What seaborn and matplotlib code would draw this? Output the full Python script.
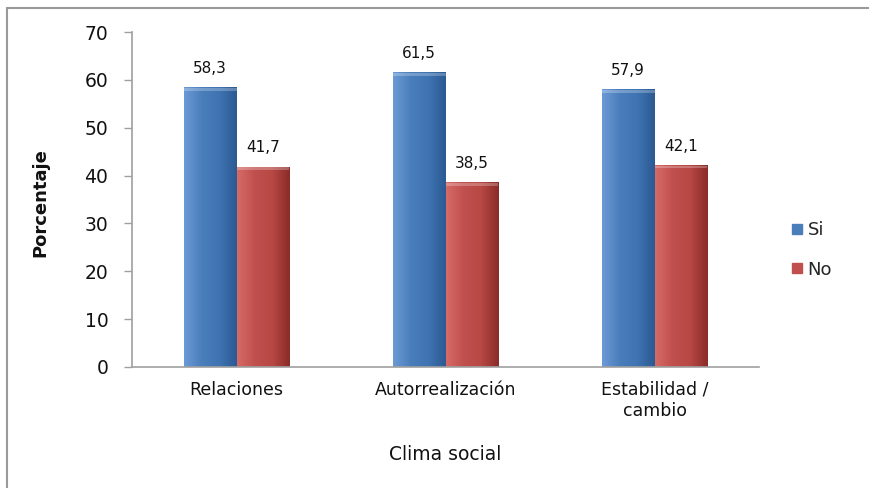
import numpy as np
import pandas as pd
import seaborn as sns
import matplotlib
matplotlib.use("Agg")
import matplotlib.pyplot as plt
from matplotlib.colors import LinearSegmentedColormap
from matplotlib.lines import Line2D

categories = ["Relaciones", "Autorrealización", "Estabilidad /\ncambio"]
series = ["Si", "No"]
si_values = [58.3, 61.5, 57.9]
no_values = [41.7, 38.5, 42.1]
yticks = [0, 10, 20, 30, 40, 50, 60, 70]

df = pd.DataFrame({
    "cat": categories * 2,
    "serie": ["Si"] * 3 + ["No"] * 3,
    "val": si_values + no_values,
})

sns.set_theme(style="white")
plt.rcParams["font.family"] = ["DejaVu Sans"]

colors = {"Si": "#4a7ebb", "No": "#c0504d"}

fig = plt.figure(figsize=(8.69, 4.88), dpi=100)
ax = fig.add_axes([132 / 869, 1 - 367 / 488, (759 - 132) / 869, (367 - 32) / 488])

sns.barplot(data=df, x="cat", y="val", hue="serie", palette=colors,
            width=0.507, ax=ax, saturation=1, legend=False, errorbar=None)

ax.set_ylim(0, 70)
ax.set_xlim(-0.5, 2.5)
ax.set_yticks(yticks)
ax.tick_params(axis="y", labelsize=13.5, length=6, width=1, color="#a0a0a0",
               direction="out", left=True, pad=11, labelcolor="#111111")
ax.tick_params(axis="x", labelsize=12.5, length=0, pad=10, labelcolor="#111111")
for s in ["top", "right"]:
    ax.spines[s].set_visible(False)
for s in ["left", "bottom"]:
    ax.spines[s].set_color("#a0a0a0")
    ax.spines[s].set_linewidth(1.2)

ax.set_ylabel("Porcentaje", fontsize=13, fontweight="bold", color="#111111")
ax.yaxis.set_label_coords(-0.131, 0.49)
ax.set_xlabel("Clima social", fontsize=13.5, labelpad=18, color="#111111")

cmaps = {
    "Si": LinearSegmentedColormap.from_list("b", ["#6b9ad6", "#4a7ebb", "#3f74b3", "#2c5a93"]),
    "No": LinearSegmentedColormap.from_list("r", ["#d66a66", "#c0504d", "#b84844", "#8a2c29"]),
}
grad = np.linspace(0, 1, 64).reshape(1, -1)
patches = list(ax.patches)
order = ["Si"] * 3 + ["No"] * 3
for p, s in zip(patches, order):
    x0, y0 = p.get_x(), p.get_y()
    w, h = p.get_width(), p.get_height()
    ax.imshow(grad, extent=[x0, x0 + w, y0, y0 + h], aspect="auto",
              cmap=cmaps[s], zorder=p.get_zorder() + 0.1, interpolation="bicubic")
    ax.add_patch(plt.Rectangle((x0, y0 + h - 0.6), w, 0.6, color="white", alpha=0.25,
                               zorder=p.get_zorder() + 0.2, lw=0))
    ax.text(x0 + w / 2, y0 + h + 2.5, f"{h:.1f}".replace(".", ","), ha="center",
            va="bottom", fontsize=11, color="#111111")
ax.set_xlim(-0.5, 2.5)
ax.set_ylim(0, 70)

handles = [Line2D([0], [0], marker="s", linestyle="none", markersize=7,
                  markerfacecolor=colors[s], markeredgecolor=colors[s]) for s in series]
ax.legend(handles, series, loc="center left", bbox_to_anchor=(1.02, 0.35),
          frameon=False, fontsize=13, labelspacing=1.2, handletextpad=0.1,
          handlelength=1.0)

fig.add_artist(Line2D([7 / 869, 7 / 869], [0, 1 - 8 / 488], color="#999999", lw=1.5))
fig.add_artist(Line2D([7 / 869, 1], [1 - 8 / 488, 1 - 8 / 488], color="#999999", lw=1.5))

fig.savefig("out.png", dpi=100)
